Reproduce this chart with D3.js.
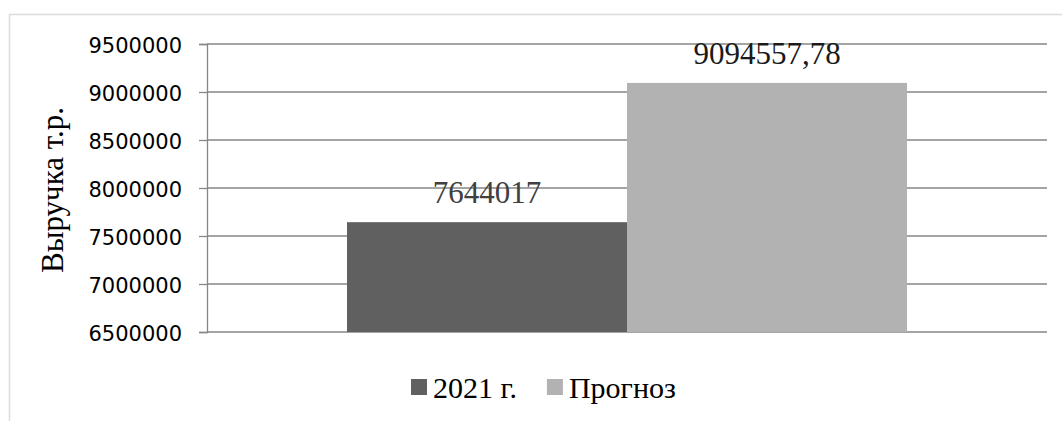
<!DOCTYPE html>
<html>
<head>
<meta charset="utf-8">
<script src="https://cdn.jsdelivr.net/npm/d3@7/dist/d3.min.js"></script>
<style>
  html, body { margin: 0; padding: 0; background: #ffffff; }
  svg { display: block; }
</style>
</head>
<body>
<svg id="chart" width="1062" height="421"></svg>
<script>
// Revenue: 2021 actual vs forecast
const categories = ["Выручка"];
const seriesNames = ["2021 г.", "Прогноз"];
const seriesValues = [7644017, 9094557.78];
const valueLabels = ["7644017", "9094557,78"];
const tickValues = [6500000, 7000000, 7500000, 8000000, 8500000, 9000000, 9500000];
const yTitle = "Выручка т.р.";

const colors = ["#606060", "#b2b2b2"];
const labelColors = ["#404040", "#1a1a1a"];
const gridColor = "#868686";
const serif = "'Liberation Serif', 'Times New Roman', serif";
const sans = "'DejaVu Sans', Verdana, sans-serif";

const svg = d3.select("#chart");

// outer chart frame
svg.append("rect")
  .attr("x", 9.5).attr("y", 14.5)
  .attr("width", 1070).attr("height", 420)
  .attr("fill", "#ffffff")
  .attr("stroke", "#dcdcdc")
  .attr("stroke-width", 1.5);

const plot = { left: 207, right: 1047, top: 44, bottom: 332 };

const y = d3.scaleLinear()
  .domain([tickValues[0], tickValues[tickValues.length - 1]])
  .range([plot.bottom, plot.top]);

const x0 = d3.scaleBand()
  .domain(categories)
  .range([plot.left, plot.right])
  .paddingInner(0.2)
  .paddingOuter(0.2);

const x1 = d3.scaleBand()
  .domain(seriesNames)
  .range([0, x0.bandwidth()]);

// horizontal gridlines
svg.append("g")
  .selectAll("line")
  .data(tickValues)
  .join("line")
  .attr("x1", plot.left).attr("x2", plot.right)
  .attr("y1", d => y(d)).attr("y2", d => y(d))
  .attr("stroke", gridColor)
  .attr("stroke-width", 1.3);

// y axis with outward ticks
const yAxis = svg.append("g")
  .attr("transform", `translate(${plot.left},0)`)
  .call(d3.axisLeft(y).tickValues(tickValues).tickSize(8).tickPadding(17).tickFormat(d3.format("d")));
yAxis.select(".domain").attr("stroke", gridColor).attr("stroke-width", 1.3);
yAxis.selectAll(".tick line").attr("stroke", gridColor).attr("stroke-width", 1.3);
yAxis.selectAll(".tick text")
  .attr("font-family", sans)
  .attr("font-size", 21)
  .attr("fill", "#000000")
  .attr("dy", "0.41em");

// bars
const rows = seriesNames.map((s, i) => ({ series: s, value: seriesValues[i], label: valueLabels[i], i }));
const group = svg.append("g").attr("transform", `translate(${x0(categories[0])},0)`);

group.selectAll("rect")
  .data(rows)
  .join("rect")
  .attr("x", d => x1(d.series))
  .attr("width", x1.bandwidth())
  .attr("y", d => y(d.value))
  .attr("height", d => plot.bottom - y(d.value))
  .attr("fill", d => colors[d.i]);

// value labels above bars
group.selectAll("text.value")
  .data(rows)
  .join("text")
  .attr("class", "value")
  .attr("x", d => x1(d.series) + x1.bandwidth() / 2)
  .attr("y", d => y(d.value) - 19)
  .attr("text-anchor", "middle")
  .attr("font-family", serif)
  .attr("font-size", 31)
  .attr("fill", d => labelColors[d.i])
  .text(d => d.label);

// y axis title
svg.append("text")
  .attr("transform", `translate(62.5,${(plot.top + plot.bottom) / 2 + 2}) rotate(-90)`)
  .attr("text-anchor", "middle")
  .attr("font-family", serif)
  .attr("font-size", 31)
  .attr("fill", "#000000")
  .text(yTitle);

// legend
const legend = svg.append("g");
let lx = 411;
seriesNames.forEach((name, i) => {
  legend.append("rect")
    .attr("x", lx).attr("y", 379)
    .attr("width", 16).attr("height", 16)
    .attr("fill", colors[i]);
  const t = legend.append("text")
    .attr("x", lx + 22).attr("y", 398)
    .attr("font-family", serif)
    .attr("font-size", 30)
    .attr("fill", "#000000")
    .text(name);
  lx += 22 + t.node().getComputedTextLength() + 30;
});
</script>
</body>
</html>
